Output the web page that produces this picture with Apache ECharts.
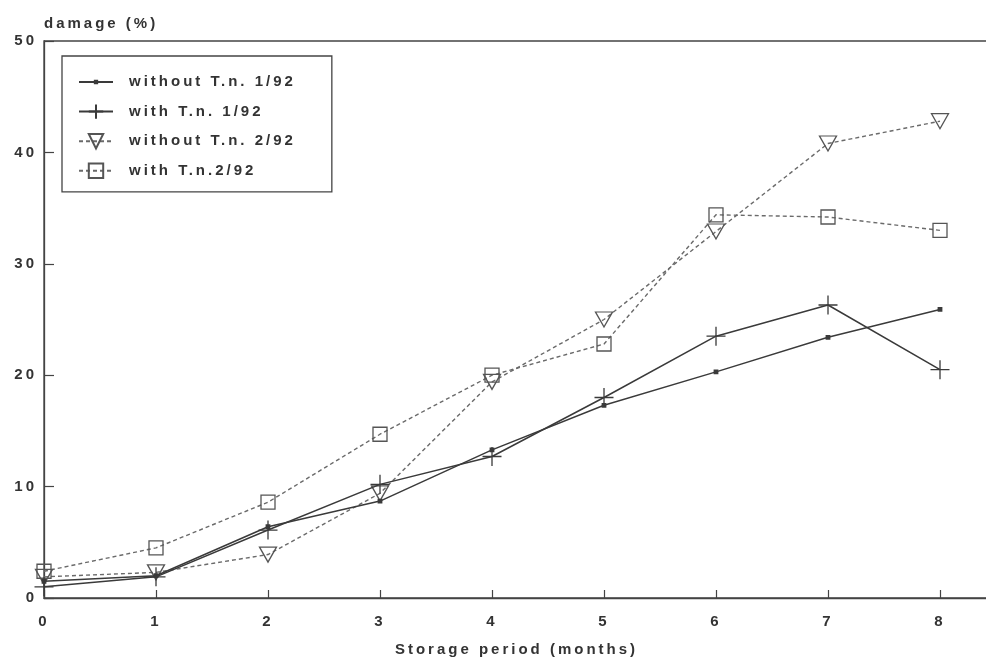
<!DOCTYPE html>
<html>
<head>
<meta charset="utf-8">
<script src="https://cdn.jsdelivr.net/npm/echarts@6/dist/echarts.min.js"></script>
<style>
html,body{margin:0;padding:0;background:#fff;}
#chart{width:986px;height:657px;}
</style>
</head>
<body>
<div id="chart"></div>
<script>
// ---- data ----
const months = [0, 1, 2, 3, 4, 5, 6, 7, 8];
const withoutTn1 = [1.5, 2.0, 6.4, 8.7, 13.3, 17.3, 20.3, 23.4, 25.9];
const withTn1    = [1.0, 1.9, 6.1, 10.2, 12.7, 18.0, 23.5, 26.3, 20.5];
const withoutTn2 = [1.9, 2.3, 3.9, 9.4, 19.4, 25.0, 32.9, 40.8, 42.8];
const withTn2    = [2.4, 4.5, 8.6, 14.7, 20.0, 22.8, 34.4, 34.2, 33.0];
const seriesNames = ['without T.n. 1/92', 'with T.n. 1/92', 'without T.n. 2/92', 'with T.n.2/92'];
const xTitle = 'Storage period (months)';
const yTitle = 'damage (%)';

// ---- wide letter spacing of the original lettering ----
(function () {
  const LS = '3px';
  const P = CanvasRenderingContext2D.prototype;
  ['fillText', 'strokeText', 'measureText'].forEach(function (fn) {
    const o = P[fn];
    P[fn] = function () {
      if ('letterSpacing' in this) this.letterSpacing = LS;
      return o.apply(this, arguments);
    };
  });
})();

const FONT = '"Liberation Sans", Arial, sans-serif';
const TXT = { fontFamily: FONT, fontSize: 15, fontWeight: 'bold', color: '#333' };
const AX = '#444';

function pairs(vals) { return months.map((m, i) => [m, vals[i]]); }

const chart = echarts.init(document.getElementById('chart'), null, { renderer: 'canvas' });
chart.setOption({
  animation: false,
  backgroundColor: '#fff',
  title: { text: yTitle, left: 44, top: 15, padding: 0, textStyle: TXT },
  grid: {
    left: 44, top: 41, right: -3, bottom: 59,
    outerBoundsMode: 'none', containLabel: false,
    show: true, borderColor: AX, borderWidth: 1.3
  },
  legend: {
    orient: 'vertical', left: 62, top: 56,
    padding: [17, 36, 12, 16],
    itemWidth: 34, itemHeight: 18, itemGap: 11.6,
    borderColor: AX, borderWidth: 1.3,
    textStyle: Object.assign({}, TXT, { padding: [0, 0, 0, 11] }),
    data: seriesNames
  },
  xAxis: {
    type: 'value', min: 0, max: 8.4375, interval: 1,
    name: xTitle, nameLocation: 'middle', nameGap: 43, nameTextStyle: TXT,
    axisLine: { show: true, lineStyle: { color: AX, width: 1.3 } },
    axisTick: { show: true, inside: true, length: 8, lineStyle: { color: AX, width: 1.2 } },
    axisLabel: Object.assign({ margin: 15, formatter: v => Number.isInteger(v) ? String(v) : '' }, TXT),
    splitLine: { show: false }
  },
  yAxis: {
    type: 'value', min: 0, max: 50, interval: 10,
    axisLine: { show: true, lineStyle: { color: AX, width: 1.3 } },
    axisTick: { show: true, inside: true, length: 10, lineStyle: { color: AX, width: 1.2 } },
    axisLabel: Object.assign({ margin: 7 }, TXT),
    splitLine: { show: false }
  },
  series: [
    {
      name: seriesNames[0], type: 'line', data: pairs(withoutTn1),
      symbol: 'path://M0,0 L0.01,0 M7,7 L13,7 L13,13 L7,13 Z M20,20 L20.01,20', symbolSize: 16,
      lineStyle: { color: '#3a3a3a', width: 1.5, type: 'solid' },
      itemStyle: { color: '#3a3a3a' }, z: 3
    },
    {
      name: seriesNames[1], type: 'line', data: pairs(withTn1),
      symbol: 'path://M0,10 L20,10 M10,0 L10,20', symbolSize: 19,
      lineStyle: { color: '#3a3a3a', width: 1.5, type: 'solid' },
      itemStyle: { color: 'rgba(0,0,0,0)', borderColor: '#3a3a3a', borderWidth: 1.3 }, z: 3
    },
    {
      name: seriesNames[2], type: 'line', data: pairs(withoutTn2),
      symbol: 'path://M0,0 L20,0 L10,17 Z', symbolSize: [17, 15],
      lineStyle: { color: '#6a6a6a', width: 1.4, type: [4, 3] },
      itemStyle: { color: 'rgba(0,0,0,0)', borderColor: '#555', borderWidth: 1.3 }, z: 2
    },
    {
      name: seriesNames[3], type: 'line', data: pairs(withTn2),
      symbol: 'path://M0,0 L10,0 L10,10 L0,10 Z', symbolSize: 14,
      lineStyle: { color: '#6a6a6a', width: 1.4, type: [4, 3] },
      itemStyle: { color: 'rgba(0,0,0,0)', borderColor: '#555', borderWidth: 1.3 }, z: 2
    }
  ]
});
</script>
</body>
</html>
